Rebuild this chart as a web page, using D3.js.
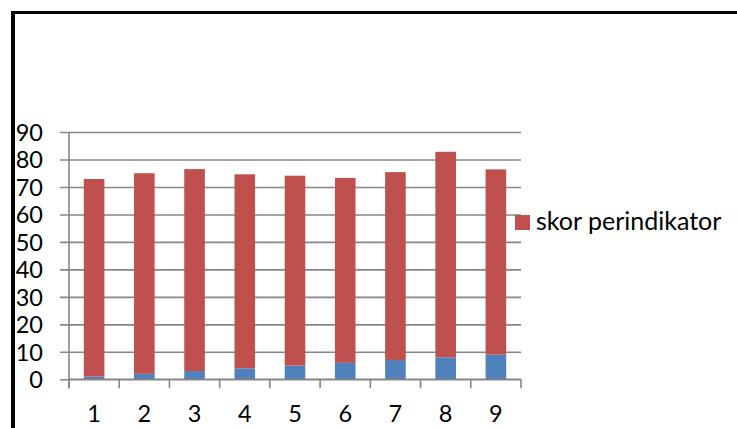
<!DOCTYPE html>
<html>
<head>
<meta charset="utf-8">
<script src="https://cdn.jsdelivr.net/npm/d3@7"></script>
<style>
  html, body { margin: 0; padding: 0; background: #fff; }
  svg { display: block; }
  text { font-family: Lato, "Open Sans", sans-serif; fill: #000; }
</style>
</head>
<body>
<svg id="chart" width="737" height="428"></svg>
<script>
const categories = ["1", "2", "3", "4", "5", "6", "7", "8", "9"];
const seriesNo = [1, 2, 3, 4, 5, 6, 7, 8, 9];
const seriesSkor = [71.9, 73.0, 73.5, 70.6, 69.1, 67.3, 68.4, 74.8, 67.4];
const yTicks = [0, 10, 20, 30, 40, 50, 60, 70, 80, 90];
const legendLabel = "skor perindikator";

const svg = d3.select("#chart");
const W = 737, H = 428;
const plot = { left: 69, right: 521, top: 132, bottom: 379.3 };
const colors = { no: "#4F81BD", skor: "#C0504D" };

// frame
svg.append("rect").attr("x", 11).attr("y", 11).attr("width", W - 11).attr("height", 3).attr("fill", "#000");
svg.append("rect").attr("x", 11).attr("y", 11).attr("width", 4).attr("height", H - 11).attr("fill", "#000");

const x = d3.scaleBand().domain(categories).range([plot.left, plot.right]).paddingInner(0.59).paddingOuter(0.295);
const y = d3.scaleLinear().domain([0, 90]).range([plot.bottom, plot.top]);

// gridlines + y axis
const yAxis = d3.axisLeft(y).tickValues(yTicks).tickSize(-(plot.right - plot.left)).tickSizeOuter(0).tickFormat(d3.format("d"));
const gy = svg.append("g").attr("transform", `translate(${plot.left},0)`).call(yAxis);
gy.select(".domain").remove();
gy.selectAll(".tick line").attr("stroke", "#868686").attr("stroke-width", 1.6).attr("x1", -9);
gy.selectAll(".tick text").attr("x", -26).attr("dy", "0.36em").attr("font-size", 23.5).attr("text-anchor", "end");

// vertical axis line
svg.append("line").attr("x1", plot.left).attr("x2", plot.left).attr("y1", plot.top).attr("y2", plot.bottom + 9)
  .attr("stroke", "#868686").attr("stroke-width", 1.6);

// stacked bars
const rows = categories.map((c, i) => ({ cat: c, no: seriesNo[i], skor: seriesSkor[i] }));
const stack = d3.stack().keys(["no", "skor"])(rows);
svg.append("g").selectAll("g").data(stack).join("g")
  .attr("fill", d => colors[d.key])
  .selectAll("rect").data(d => d).join("rect")
  .attr("x", d => x(d.data.cat))
  .attr("width", x.bandwidth())
  .attr("y", d => y(d[1]))
  .attr("height", d => y(d[0]) - y(d[1]));

// x axis
const step = x.step();
const gx = svg.append("g").attr("transform", `translate(0,${plot.bottom})`);
gx.append("line").attr("x1", plot.left).attr("x2", plot.right).attr("stroke", "#868686").attr("stroke-width", 1.6);
const boundaries = d3.range(categories.length + 1).map(i => plot.left + i * step);
gx.selectAll("line.tk").data(boundaries).join("line").attr("class", "tk")
  .attr("x1", d => d).attr("x2", d => d).attr("y1", 0).attr("y2", 9)
  .attr("stroke", "#868686").attr("stroke-width", 1.6);
gx.selectAll("text").data(categories).join("text")
  .attr("x", d => x(d) + x.bandwidth() / 2)
  .attr("y", 34.5)
  .attr("dy", "0.36em")
  .attr("text-anchor", "middle")
  .attr("font-size", 23.5)
  .text(d => d);

// legend
const lg = svg.append("g");
lg.append("rect").attr("x", 515).attr("y", 215).attr("width", 15).attr("height", 15).attr("fill", colors.skor);
lg.append("text").attr("x", 536).attr("y", 230).attr("font-size", 25).text(legendLabel);
</script>
</body>
</html>
